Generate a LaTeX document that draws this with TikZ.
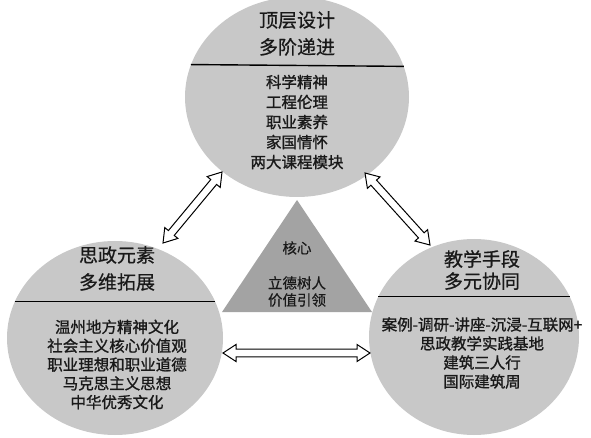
\documentclass[tikz,border=0pt]{standalone}
\usepackage{fontspec}
\setmainfont{Noto Sans CJK SC}
\newfontfamily\bodyf[FakeBold=1.2]{Noto Sans CJK SC}
\newfontfamily\titlef[FakeBold=0.6]{Noto Sans CJK SC}
\usetikzlibrary{shapes.geometric,calc}
\definecolor{circgray}{RGB}{200,200,200}
\definecolor{trigray}{RGB}{163,163,163}
\definecolor{inkc}{RGB}{25,25,25}
\tikzset{
  circ/.style={ellipse, fill=circgray, draw=none, inner sep=0pt},
  titletext/.style={align=center, text=inkc, inner sep=0pt},
  bodytext/.style={align=center, text=inkc, inner sep=0pt},
  divider/.style={line width=1.4pt, draw=black},
  hollowarrow/.style={draw=black, fill=white, line width=1pt, line join=miter,
    to path={
      -- ($(\tikztostart)!13pt!(\tikztotarget)!8.5pt!90:(\tikztotarget)$)
      -- ($(\tikztostart)!13pt!(\tikztotarget)!3.8pt!90:(\tikztotarget)$)
      -- ($(\tikztotarget)!13pt!(\tikztostart)!3.8pt!-90:(\tikztostart)$)
      -- ($(\tikztotarget)!13pt!(\tikztostart)!8.5pt!-90:(\tikztostart)$)
      -- (\tikztotarget)
      -- ($(\tikztotarget)!13pt!(\tikztostart)!8.5pt!90:(\tikztostart)$)
      -- ($(\tikztotarget)!13pt!(\tikztostart)!3.8pt!90:(\tikztostart)$)
      -- ($(\tikztostart)!13pt!(\tikztotarget)!3.8pt!-90:(\tikztotarget)$)
      -- ($(\tikztostart)!13pt!(\tikztotarget)!8.5pt!-90:(\tikztotarget)$)
      -- cycle
    }},
}
\begin{document}
\begin{tikzpicture}[x=1pt,y=-1pt]
\useasboundingbox (0,0) rectangle (591,438);
% ellipses
\node[circ, minimum width=224pt, minimum height=200pt] (top) at (297,97) {};
\node[circ, minimum width=216pt, minimum height=194pt] (left) at (115,338) {};
\node[circ, minimum width=210pt, minimum height=196pt] (right) at (474,337) {};
% dividers
\draw[divider] (top.163.2) -- (top.16.8);
\draw[divider] (left.160) -- (left.20);
\draw[divider] (right.157) -- (right.23);
% triangle
\coordinate (apex) at (297,200);
\coordinate (bl) at (222,312);
\coordinate (br) at (372,312);
\fill[trigray] (apex) -- (bl) -- (br) -- cycle;
% texts top
\node[titletext, font=\titlef\fontsize{19}{27}\selectfont] (toptitle) at (297,33.5) {顶层设计\\多阶递进};
\node[bodytext, font=\bodyf\fontsize{15.5}{20}\selectfont] (topbody) at (297,122) {科学精神\\工程伦理\\职业素养\\家国情怀\\两大课程模块};
% texts left
\node[titletext, font=\titlef\fontsize{19}{27}\selectfont] (lefttitle) at (117,268.5) {思政元素\\多维拓展};
\node[bodytext, font=\bodyf\fontsize{15.5}{18.8}\selectfont] (leftbody) at (117,364.5) {温州地方精神文化\\社会主义核心价值观\\职业理想和职业道德\\马克思主义思想\\中华优秀文化};
% texts right
\node[titletext, font=\titlef\fontsize{19}{22}\selectfont] (righttitle) at (482,270) {教学手段\\多元协同};
\node[bodytext, font=\bodyf\fontsize{15.5}{19}\selectfont] (rightbody) at (482,353) {案例-调研-讲座-沉浸-互联网+\\思政教学实践基地\\建筑三人行\\国际建筑周};
% triangle texts
\node[bodytext, font=\titlef\fontsize{14.5}{17}\selectfont] (core) at (297,248) {核心};
\node[bodytext, font=\titlef\fontsize{14.5}{17}\selectfont] (coretext) at (297,291.5) {立德树人\\价值引领};
% arrows
\coordinate (a1s) at (163,243);
\coordinate (a1e) at (222,172);
\coordinate (a2s) at (365,173);
\coordinate (a2e) at (430,245);
\coordinate (a3s) at (223,353);
\coordinate (a3e) at (370,353);
\draw[hollowarrow] (a1s) to (a1e);
\draw[hollowarrow] (a2s) to (a2e);
\draw[hollowarrow] (a3s) to (a3e);
\end{tikzpicture}
\end{document}
